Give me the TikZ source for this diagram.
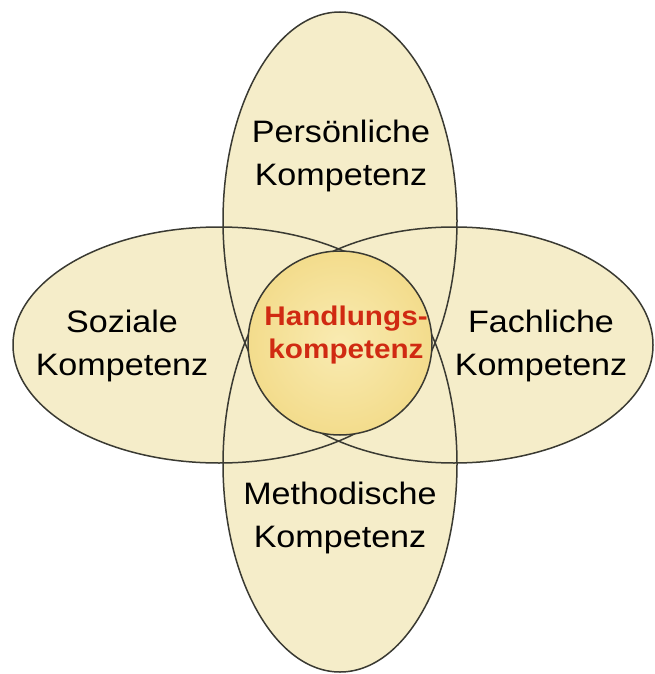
\documentclass[tikz,border=0pt]{standalone}
\usepackage{fontspec}
\setmainfont{Liberation Sans}
\newfontfamily\labfont[FakeStretch=1.1]{Liberation Sans}
\definecolor{petalFill}{HTML}{F5EDC9}
\definecolor{petalLine}{HTML}{3A3A32}
\definecolor{coreIn}{HTML}{F9EBB2}
\definecolor{coreOut}{HTML}{F3DC8C}
\definecolor{coreText}{HTML}{D02A12}
\tikzset{
  petal/.style={fill=petalFill},
  rim/.style={draw=petalLine,line width=1.5pt},
  plab/.style={font=\labfont\fontsize{31}{43}\selectfont,align=center,text=black},
  clab/.style={font=\labfont\bfseries\fontsize{27}{33}\selectfont,align=center,text=coreText}}
\begin{document}
\begin{tikzpicture}[x=1pt,y=-1pt]
\useasboundingbox (0,0) rectangle (655,674);
% petals: fill first, outlines on top
\foreach \cx/\cy/\rx/\ry in {340/221/117/209,340/464/117/208,219/345/206/118,454/345/199/118}
  \fill[petal] (\cx,\cy) ellipse[x radius=\rx,y radius=\ry];
\foreach \cx/\cy/\rx/\ry in {340/221/117/209,340/464/117/208,219/345/206/118,454/345/199/118}
  \draw[rim] (\cx,\cy) ellipse[x radius=\rx,y radius=\ry];
% core
\draw[rim,inner color=coreIn,outer color=coreOut] (340,343) circle[radius=92];
\node[clab] (hand) at (346,335) {Handlungs-\\kompetenz};
\node[plab] (pers) at (341,156) {Persönliche\\Kompetenz};
\node[plab] (soz) at (122,346) {Soziale\\Kompetenz};
\node[plab] (fach) at (541,346) {Fachliche\\Kompetenz};
\node[plab] (meth) at (340,518) {Methodische\\Kompetenz};
\end{tikzpicture}
\end{document}
